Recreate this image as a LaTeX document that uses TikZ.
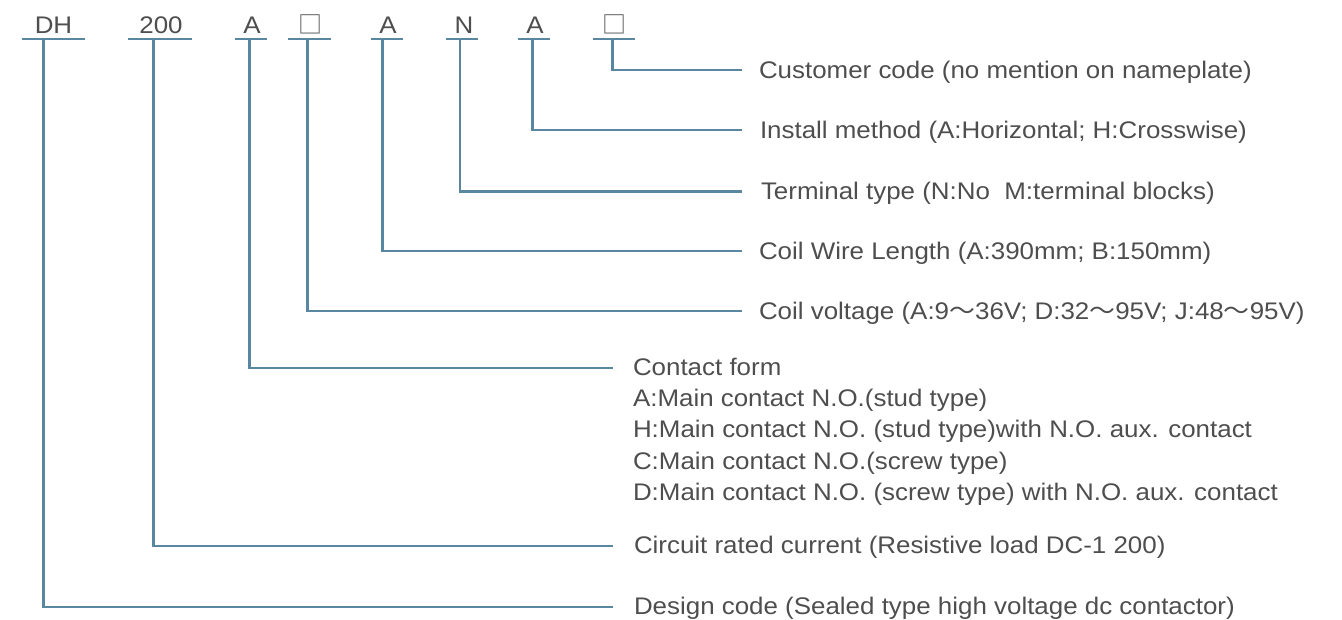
\documentclass[tikz,border=0pt]{standalone}
\usepackage{fontspec}
\setmainfont{Liberation Sans}
\newfontfamily\cjkfont{Noto Sans CJK SC}
\usepackage{graphicx}
\definecolor{lncol}{RGB}{90,135,160}
\definecolor{txcol}{RGB}{78,78,78}
\newcommand\wv{{\cjkfont ～}}
\newcommand\sx[1]{\scalebox{1.08}[1]{#1}}
\begin{document}
\begin{tikzpicture}[x=1pt,y=-1pt,
  every node/.style={inner sep=0pt,outer sep=0pt,text=txcol,font=\fontsize{24}{31.2}\selectfont},
  codetxt/.style={anchor=base},
  lbl/.style={anchor=base west,align=left},
  barline/.style={draw=lncol,line width=2.7pt},
  lead/.style={draw=lncol,line width=2.5pt}]
\useasboundingbox (0,0) rectangle (1342,619);

% code letters
\node[codetxt] (c1) at (53.5,33) {\sx{DH}};
\node[codetxt] (c2) at (161,33) {\sx{200}};
\node[codetxt] (c3) at (252,33) {\sx{A}};
\node[codetxt] (c4) at (310.5,33) {{\cjkfont □}};
\node[codetxt] (c5) at (388,33) {\sx{A}};
\node[codetxt] (c6) at (464,33) {\sx{N}};
\node[codetxt] (c7) at (535,33) {\sx{A}};
\node[codetxt] (c8) at (614.5,33) {{\cjkfont □}};

% bars
\coordinate (b1a) at (21.7,39);  \coordinate (b1b) at (85,39);
\coordinate (b2a) at (128.3,39); \coordinate (b2b) at (192.3,39);
\coordinate (b3a) at (235,39);   \coordinate (b3b) at (266.7,39);
\coordinate (b4a) at (288.3,39); \coordinate (b4b) at (331,39);
\coordinate (b5a) at (371,39);   \coordinate (b5b) at (403.3,39);
\coordinate (b6a) at (446,39);   \coordinate (b6b) at (477.7,39);
\coordinate (b7a) at (517.7,39); \coordinate (b7b) at (550,39);
\coordinate (b8a) at (592.7,39); \coordinate (b8b) at (635,39);
\foreach \i in {1,...,8} {\draw[barline] (b\i a) -- (b\i b);}

% vertical starts
\coordinate (v1) at (43.3,39);
\coordinate (v2) at (153.3,39);
\coordinate (v3) at (249.3,39);
\coordinate (v4) at (307.3,39);
\coordinate (v5) at (382.3,39);
\coordinate (v6) at (460,39);
\coordinate (v7) at (532.3,39);
\coordinate (v8) at (612.7,39);

% line ends
\coordinate (e1) at (613.3,607);
\coordinate (e2) at (613.3,546);
\coordinate (e3) at (613.3,368);
\coordinate (e4) at (741.7,311);
\coordinate (e5) at (741.7,251);
\coordinate (e6) at (741.7,191.5);
\coordinate (e7) at (741.5,130);
\coordinate (e8) at (742,70);

% labels
\node[lbl] (l8) at (759,78) {\sx{Customer code (no mention on nameplate)}};
\node[lbl] (l7) at (760,138) {\sx{Install method (A:Horizontal; H:Crosswise)}};
\node[lbl] (l6) at (761,199.5) {\sx{Terminal type (N:No\ \ M:terminal blocks)}};
\node[lbl] (l5) at (759,259) {\sx{Coil Wire Length (A:390mm; B:150mm)}};
\node[lbl] (l4) at (759,319) {\sx{Coil voltage (A:9\wv36V; D:32\wv95V; J:48\wv95V)}};
\node[lbl] (l3) at (633,500.3) {\sx{Contact form}\\
  \sx{A:Main contact N.O.(stud type)}\\
  \sx{H:Main contact N.O. (stud type)with N.O. aux. contact}\\
  \sx{C:Main contact N.O.(screw type)}\\
  \sx{D:Main contact N.O. (screw type) with N.O. aux. contact}};
\node[lbl] (l2) at (634,553.5) {\sx{Circuit rated current (Resistive load DC-1 200)}};
\node[lbl] (l1) at (634,614.5) {\sx{Design code (Sealed type high voltage dc contactor)}};

% leaders
\foreach \i in {1,...,8} {\draw[lead] (v\i) |- (e\i);}
\end{tikzpicture}
\end{document}
